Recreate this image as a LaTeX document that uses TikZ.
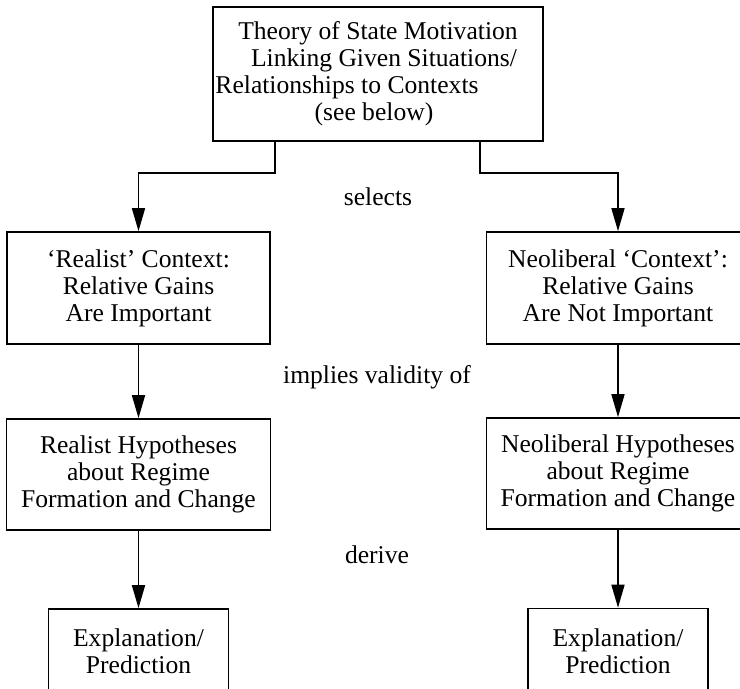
\documentclass[tikz,border=0pt]{standalone}
\usepackage{fontspec}
\setmainfont{Liberation Serif}
\usetikzlibrary{arrows.meta}

\begin{document}
\begin{tikzpicture}[x=0.5pt, y=-0.5pt, font=\fontsize{12.8}{13.5}\selectfont,
    box/.style={draw, line width=0.8pt, inner sep=0pt, align=center},
    flow/.style={-{Triangle[length=11.5pt, width=6.5pt]}, line width=0.8pt}]
    \useasboundingbox (0,0) rectangle (740,689);
    \clip (0,0) rectangle (740,689);

    \node[box, minimum width=165pt, minimum height=67pt] (theory) at (378,74) {Theory of State Motivation\\\hspace*{6pt}Linking Given Situations/\\Relationships to Contexts\hspace*{31pt}\mbox{}\\(see below)\hspace*{4pt}\mbox{}};

    \node[box, minimum width=131.5pt, minimum height=56pt] (realctx) at (138.5,288) {‘Realist’ Context:\\Relative Gains\\Are Important};
    \node[box, minimum width=131.5pt, minimum height=56pt] (neoctx) at (618,288) {Neoliberal ‘Context’:\\Relative Gains\\Are Not Important};

    \node[box, minimum width=132pt, minimum height=55.5pt] (realhyp) at (138.5,474.5) {Realist Hypotheses\\about Regime\\Formation and Change};
    \node[box, minimum width=131.5pt, minimum height=55.5pt] (neohyp) at (618,473.5) {Neoliberal Hypotheses\\about Regime\\Formation and Change};

    \node[box, minimum width=90pt, minimum height=42.5pt] (realexp) at (138.5,651.5) {Explanation/\\Prediction};
    \node[box, minimum width=90pt, minimum height=42.5pt] (neoexp) at (618,651) {Explanation/\\Prediction};

    \draw[flow] ([xshift=-51.5pt]theory.south) -- ++(0,31) -| (realctx.north);
    \draw[flow] ([xshift=51pt]theory.south) -- ++(0,31) -| (neoctx.north);
    \draw[flow] (realctx) -- (realhyp);
    \draw[flow] (neoctx) -- (neohyp);
    \draw[flow] (realhyp) -- (realexp);
    \draw[flow] (neohyp) -- (neoexp);

    \node (selects) at (378,197) {selects};
    \node (implies) at (377,377) {implies validity of};
    \node (derive) at (377,555) {derive};
\end{tikzpicture}
\end{document}
